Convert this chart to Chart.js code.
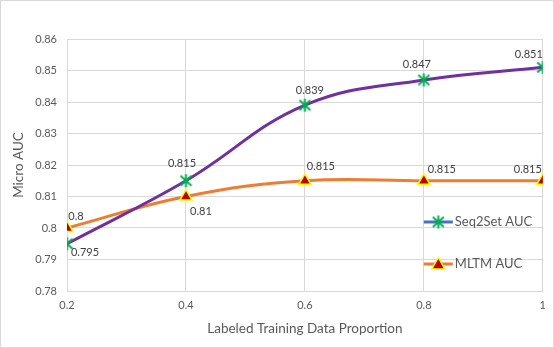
<!DOCTYPE html>
<html>
<head>
<meta charset="utf-8">
<script src="https://cdn.jsdelivr.net/npm/chart.js@4/dist/chart.umd.min.js"></script>
<style>
  html, body { margin: 0; padding: 0; background: #fff; }
  #wrap { width: 554px; height: 348px; position: relative; }
</style>
</head>
<body>
<div id="wrap"><canvas id="c" width="554" height="348"></canvas></div>
<script>
// ---- data ----
const proportions = [0.2, 0.4, 0.6, 0.8, 1.0];
const seq2setAUC = [0.795, 0.815, 0.839, 0.847, 0.851];
const mltmAUC = [0.8, 0.81, 0.815, 0.815, 0.815];
const seriesNames = ['Seq2Set AUC', 'MLTM AUC'];
const xTickValues = [0.2, 0.4, 0.6, 0.8, 1];
const yTickValues = [0.78, 0.79, 0.8, 0.81, 0.82, 0.83, 0.84, 0.85, 0.86];

const FONT = 'Lato, "Open Sans", sans-serif';
const TXT = '#595959';
const GRID = '#D9D9D9';

// star (asterisk) marker like Excel's
function makeStar() {
  const s = 15, c = document.createElement('canvas');
  c.width = s; c.height = s;
  const g = c.getContext('2d');
  g.strokeStyle = '#00B050'; g.lineWidth = 2; g.lineCap = 'butt';
  g.beginPath();
  g.moveTo(7.5, 1); g.lineTo(7.5, 14);
  g.moveTo(2, 2.5); g.lineTo(13, 12.5);
  g.moveTo(13, 2.5); g.lineTo(2, 12.5);
  g.stroke();
  return c;
}
const starImg = makeStar();

const toXY = (xs, ys) => xs.map((x, i) => ({ x: x, y: ys[i] }));

const bgPlugin = {
  id: 'bg',
  beforeDraw(chart) {
    const ctx = chart.ctx;
    ctx.save();
    ctx.fillStyle = '#fff';
    ctx.fillRect(0, 0, chart.width, chart.height);
    ctx.strokeStyle = GRID; ctx.lineWidth = 1;
    ctx.strokeRect(0.5, 0.5, chart.width - 1, chart.height - 1);
    ctx.restore();
  }
};

// value labels with per-point offsets
const labelOffsets = [
  [[18, 9], [-4, -17], [5, -15], [-7, -15], [-14, -13]],
  [[9, -12], [15, 15], [16, -14], [18, -11], [-15, -11]]
];
const valueLabels = {
  id: 'valueLabels',
  afterDatasetsDraw(chart) {
    const ctx = chart.ctx;
    ctx.save();
    ctx.font = '11px ' + FONT;
    ctx.fillStyle = '#404040';
    ctx.textAlign = 'center';
    ctx.textBaseline = 'middle';
    chart.data.datasets.forEach((ds, di) => {
      const meta = chart.getDatasetMeta(di);
      meta.data.forEach((pt, i) => {
        const off = labelOffsets[di][i];
        ctx.fillText(String(ds.data[i].y), pt.x + off[0], pt.y + off[1]);
      });
    });
    ctx.restore();
  }
};

// legend drawn inside plot area
const innerLegend = {
  id: 'innerLegend',
  afterDraw(chart) {
    const ctx = chart.ctx;
    const a = chart.chartArea;
    const x0 = a.right - 119;
    const rows = [
      { y: 222, line: '#4472C4', name: seriesNames[0], kind: 'star' },
      { y: 264, line: '#ED7D31', name: seriesNames[1], kind: 'tri' }
    ];
    ctx.save();
    rows.forEach(r => {
      ctx.strokeStyle = r.line; ctx.lineWidth = 3;
      ctx.beginPath(); ctx.moveTo(x0, r.y); ctx.lineTo(x0 + 29, r.y); ctx.stroke();
      const cx = x0 + 14.5;
      if (r.kind === 'star') {
        ctx.drawImage(starImg, cx - 7.5, r.y - 7.5);
      } else {
        ctx.beginPath();
        ctx.moveTo(cx, r.y - 6.5); ctx.lineTo(cx + 6.5, r.y + 5); ctx.lineTo(cx - 6.5, r.y + 5);
        ctx.closePath();
        ctx.fillStyle = '#C00000'; ctx.fill();
        ctx.strokeStyle = '#FFFF00'; ctx.lineWidth = 1.5; ctx.stroke();
      }
      ctx.fillStyle = TXT;
      ctx.font = '13px ' + FONT;
      ctx.textAlign = 'left'; ctx.textBaseline = 'middle';
      ctx.fillText(r.name, x0 + 31, r.y);
    });
    ctx.restore();
  }
};

const fmt = v => String(parseFloat(Number(v).toFixed(2)));

new Chart(document.getElementById('c'), {
  type: 'line',
  data: {
    datasets: [
      {
        label: seriesNames[0],
        data: toXY(proportions, seq2setAUC),
        borderColor: '#7030A0',
        borderWidth: 3,
        tension: 0.4,
        pointStyle: starImg,
        pointRadius: 7,
        pointHoverRadius: 7
      },
      {
        label: seriesNames[1],
        data: toXY(proportions, mltmAUC),
        borderColor: '#ED7D31',
        borderWidth: 3,
        tension: 0.4,
        pointStyle: 'triangle',
        pointRadius: 7,
        pointHoverRadius: 7,
        pointBackgroundColor: '#C00000',
        pointBorderColor: '#FFFF00',
        pointBorderWidth: 1.5
      }
    ]
  },
  options: {
    responsive: false,
    animation: false,
    layout: { padding: { top: 39, right: 7, left: 0, bottom: 0 } },
    plugins: {
      legend: { display: false },
      tooltip: { enabled: false }
    },
    scales: {
      x: {
        type: 'linear',
        min: 0.2, max: 1,
        afterBuildTicks: ax => { ax.ticks = xTickValues.map(v => ({ value: v })); },
        afterFit: ax => { ax.height = 57; },
        grid: { color: GRID, drawTicks: false, lineWidth: 1 },
        border: { color: GRID },
        ticks: { color: TXT, font: { family: FONT, size: 11 }, padding: 8, callback: v => fmt(v) },
        title: { display: true, text: 'Labeled Training Data Proportion', color: TXT,
                 font: { family: FONT, size: 13.5 }, padding: { top: 8, bottom: 11 } }
      },
      y: {
        type: 'linear',
        min: 0.78, max: 0.86,
        afterBuildTicks: ax => { ax.ticks = yTickValues.map(v => ({ value: v })); },
        afterFit: ax => { ax.width = 67; },
        grid: { color: GRID, drawTicks: false, lineWidth: 1 },
        border: { color: GRID },
        ticks: { color: TXT, font: { family: FONT, size: 11 }, padding: 10, callback: v => fmt(v) },
        title: { display: true, text: 'Micro AUC', color: TXT,
                 font: { family: FONT, size: 13.5 }, padding: { top: 11, bottom: 4 } }
      }
    }
  },
  plugins: [bgPlugin, valueLabels, innerLegend]
});
</script>
</body>
</html>
